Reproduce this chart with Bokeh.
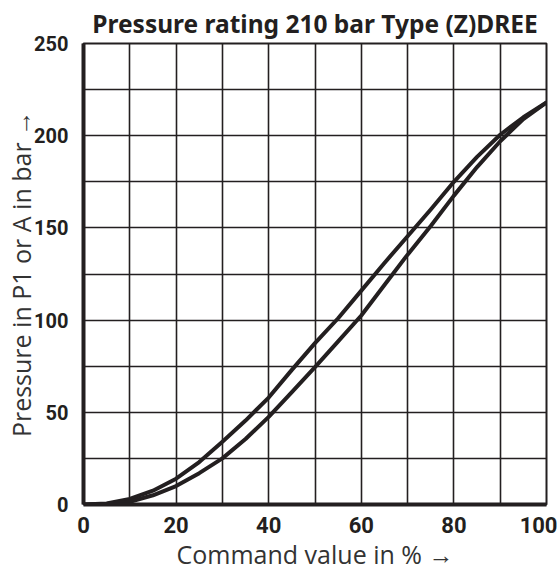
from bokeh.plotting import figure
from bokeh.models import FixedTicker, Range1d, ColumnDataSource
from bokeh.embed import file_html
from bokeh.resources import INLINE

# Data
command_pct = [0, 5, 10, 15, 20, 25, 30, 35, 40, 45, 50, 55, 60, 65, 70, 75, 80, 85, 90, 95, 100]
pressure_upper = [0, 0.5, 3, 7.5, 14, 23, 34, 45.5, 58, 73, 87.5, 101, 116, 131, 145.5, 160, 175, 188.5, 200.5, 210, 218]
pressure_lower = [0, 0.3, 1.5, 5, 10, 17, 25, 35.5, 47.5, 61, 74.5, 88.5, 102.5, 119, 135.5, 151, 167.5, 183, 197, 209, 218]

x_tick_values = [0, 20, 40, 60, 80, 100]
y_tick_values = [0, 50, 100, 150, 200, 250]
x_grid = list(range(0, 101, 10))
y_grid = list(range(0, 251, 25))

title_text = "Pressure rating 210 bar Type (Z)DREE"
x_label = "Command value in % \u2192"
y_label = "Pressure in P1 or A in bar \u2192"

INK = "#231f20"
LABEL_GREY = "#333333"

p = figure(width=557, height=574, x_range=Range1d(0, 100), y_range=Range1d(0, 250),
           output_backend="svg", toolbar_location=None, title=title_text,
           min_border_left=83, min_border_right=11, min_border_top=43, min_border_bottom=70)

p.title.align = "center"
p.title.text_font = "Noto Sans"
p.title.text_font_style = "bold"
p.title.text_font_size = "24.5px"
p.title.text_color = INK
p.title.standoff = 8

p.outline_line_color = INK
p.outline_line_width = 2
p.background_fill_color = "white"
p.border_fill_color = "white"

for ax, ticks, lab in ((p.xaxis[0], x_tick_values, x_label), (p.yaxis[0], y_tick_values, y_label)):
    ax.ticker = FixedTicker(ticks=ticks)
    ax.axis_line_color = INK
    ax.axis_line_width = 4
    ax.major_tick_line_color = None
    ax.minor_tick_line_color = None
    ax.major_tick_out = 0
    ax.major_tick_in = 0
    ax.major_label_text_font = "Roboto"
    ax.major_label_text_font_style = "bold"
    ax.major_label_text_color = INK
    ax.major_label_text_line_height = 0.9
    ax.axis_label = lab
    ax.axis_label_text_font = "Open Sans"
    ax.axis_label_text_font_style = "normal"
    ax.axis_label_text_font_size = "25px"
    ax.axis_label_text_color = LABEL_GREY

p.xaxis.major_label_text_font_size = "22px"
p.yaxis.major_label_text_font_size = "20px"
p.xaxis.major_label_standoff = 12
p.xaxis.axis_label_standoff = 1
p.yaxis.major_label_standoff = 15
p.yaxis.axis_label_standoff = -7

p.xgrid.ticker = FixedTicker(ticks=x_grid)
p.ygrid.ticker = FixedTicker(ticks=y_grid)
for g in (p.xgrid[0], p.ygrid[0]):
    g.grid_line_color = INK
    g.grid_line_width = 1.6
    g.grid_line_alpha = 1.0

src = ColumnDataSource(dict(x=command_pct, up=pressure_upper, lo=pressure_lower))
p.line("x", "up", source=src, line_color=INK, line_width=4, line_join="round", line_cap="round")
p.line("x", "lo", source=src, line_color=INK, line_width=4, line_join="round", line_cap="round")

open("out.html", "w").write(file_html(p, INLINE))
